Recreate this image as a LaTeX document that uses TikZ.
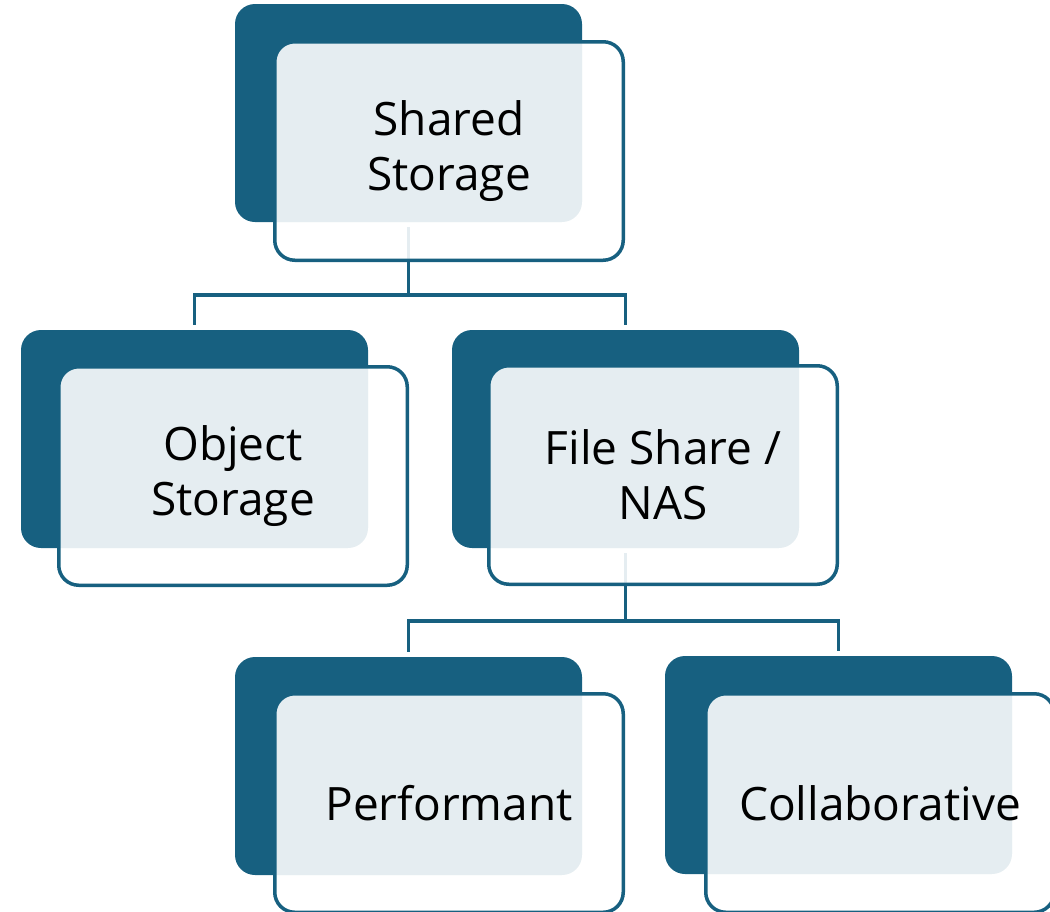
\documentclass[tikz,border=0pt]{standalone}
\usepackage{fontspec}
\setmainfont{Open Sans}
\definecolor{stor}{RGB}{23,96,128}

\begin{document}
\begin{tikzpicture}[x=1pt,y=-1pt,
  back/.style={rectangle,rounded corners=20pt,fill=stor,minimum width=347pt,minimum height=218pt,inner sep=0pt},
  front/.style={rectangle,rounded corners=20pt,draw=stor,line width=3.5pt,fill=white,fill opacity=0.89,text opacity=1,
    minimum width=348.5pt,minimum height=218.5pt,inner sep=0pt,align=center,font=\fontsize{46}{55}\selectfont},
  link/.style={draw=stor,line width=3.5pt}]
\useasboundingbox (0,0) rectangle (1050,911);

% dark back plates
\node[back] (sharedb) at (408.5,113) {};
\node[back] (objectb) at (194.5,439) {};
\node[back] (fileb) at (625.5,439) {};
\node[back] (perfb) at (408.5,766) {};
\node[back] (collabb) at (838.5,765) {};

% tree lines
\coordinate (hub1) at (408.5,295);
\coordinate (hub2) at (625.5,621);
\draw[link] ([yshift=-5pt]sharedb.south) -- (hub1) -| ([yshift=5pt]objectb.north);
\draw[link] (hub1) -| ([yshift=5pt]fileb.north);
\draw[link] ([yshift=-5pt]fileb.south) -- (hub2) -| ([yshift=5pt]perfb.north);
\draw[link] (hub2) -| ([yshift=5pt]collabb.north);

% front cards with labels
\node[front] (shared) at (449,151) {Shared\\Storage};
\node[front] (object) at (233,476) {Object\\Storage};
\node[front] (file) at (663,475) {File Share /\\NAS};
\node[front] (perf) at (449,803) {Performant};
\node[front] (collab) at (880,803) {Collaborative};
\end{tikzpicture}
\end{document}
